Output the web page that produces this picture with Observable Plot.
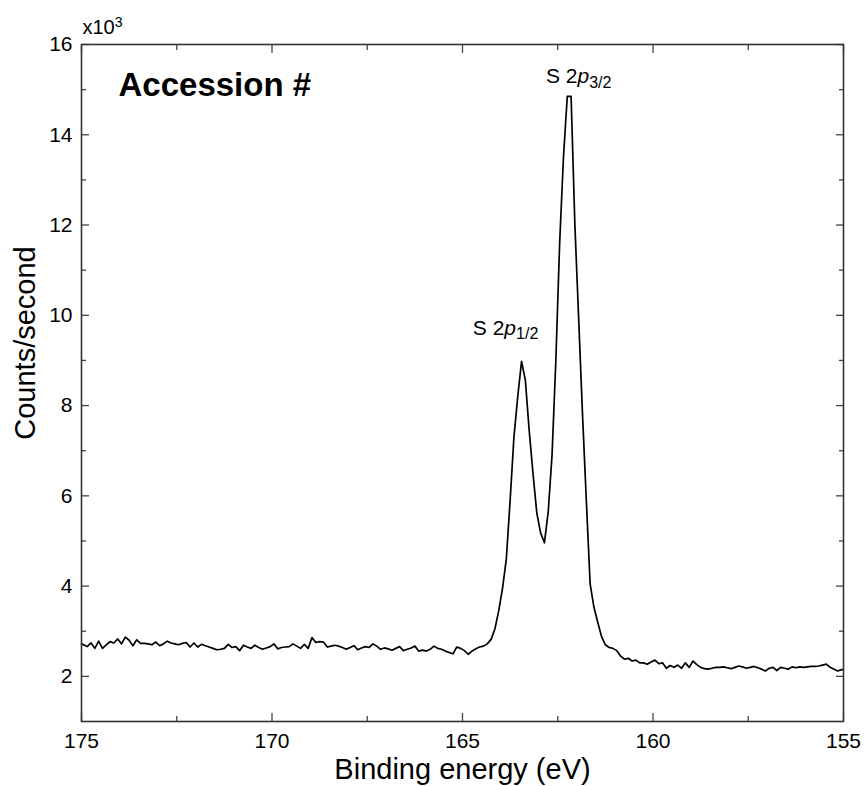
<!DOCTYPE html>
<html>
<head>
<meta charset="utf-8">
<script src="https://cdn.jsdelivr.net/npm/d3@7"></script>
<script src="https://cdn.jsdelivr.net/npm/@observablehq/plot@0.6"></script>
<style>
  html, body { margin: 0; padding: 0; background: #fff; }
  #chart svg { display: block; font-family: "Liberation Sans", Arial, sans-serif; }
</style>
</head>
<body>
<div id="chart"></div>
<script>
// Binding energy (eV), sampled spectrum
const energy = [
  175.0,
  174.95,174.85,174.75,174.65,174.55,174.45,174.35,174.25,174.15,174.05,
  173.95,173.85,173.75,173.65,173.55,173.45,173.35,173.25,173.15,173.05,
  172.95,172.85,172.75,172.65,172.55,172.45,172.35,172.25,172.15,172.05,
  171.95,171.85,171.75,171.65,171.55,171.45,171.35,171.25,171.15,171.05,
  170.95,170.85,170.75,170.65,170.55,170.45,170.35,170.25,170.15,170.05,
  169.95,169.85,169.75,169.65,169.55,169.45,169.35,169.25,169.15,169.05,
  168.95,168.85,168.75,168.65,168.55,168.45,168.35,168.25,168.15,168.05,
  167.95,167.85,167.75,167.65,167.55,167.45,167.35,167.25,167.15,167.05,
  166.95,166.85,166.75,166.65,166.55,166.45,166.35,166.25,166.15,166.05,
  165.95,165.85,165.75,165.65,165.55,165.45,165.35,165.25,165.15,165.05,
  164.95,164.85,164.75,164.65,164.55,164.45,164.35,164.25,164.15,164.05,
  163.95,163.85,163.75,163.65,163.55,163.45,163.35,163.25,163.15,163.05,
  162.95,162.85,162.75,162.65,162.55,162.45,162.35,162.25,162.15,162.05,
  161.95,161.85,161.75,161.65,161.55,161.45,161.35,161.25,161.15,161.05,
  160.95,160.85,160.75,160.65,160.55,160.45,160.35,160.25,160.15,160.05,
  159.95,159.85,159.75,159.65,159.55,159.45,159.35,159.25,159.15,159.05,
  158.95,158.85,158.75,158.65,158.55,158.45,158.35,158.25,158.15,158.05,
  157.95,157.85,157.75,157.65,157.55,157.45,157.35,157.25,157.15,157.05,
  156.95,156.85,156.75,156.65,156.55,156.45,156.35,156.25,156.15,156.05,
  155.95,155.85,155.75,155.65,155.55,155.45,155.35,155.25,155.15,155.05,
  155.0
];
// Counts/second (x10^3)
const counts = [
  2.72,
  2.70,2.66,2.74,2.62,2.78,2.62,2.70,2.77,2.74,2.83,
  2.72,2.87,2.80,2.68,2.81,2.73,2.73,2.72,2.70,2.76,
  2.68,2.72,2.78,2.74,2.72,2.70,2.73,2.75,2.65,2.74,
  2.65,2.71,2.68,2.65,2.62,2.59,2.60,2.62,2.71,2.64,
  2.66,2.57,2.69,2.65,2.62,2.69,2.64,2.60,2.63,2.66,
  2.72,2.61,2.64,2.65,2.66,2.72,2.67,2.62,2.71,2.62,
  2.86,2.75,2.77,2.76,2.65,2.67,2.69,2.67,2.64,2.60,
  2.64,2.68,2.59,2.63,2.66,2.64,2.72,2.67,2.60,2.63,
  2.61,2.58,2.62,2.66,2.57,2.60,2.63,2.67,2.56,2.58,
  2.56,2.60,2.67,2.62,2.60,2.56,2.53,2.50,2.65,2.62,
  2.57,2.49,2.56,2.61,2.65,2.67,2.72,2.82,3.05,3.45,
  3.95,4.60,5.90,7.30,8.20,8.98,8.56,7.45,6.50,5.62,
  5.18,4.96,5.65,6.90,9.00,11.6,13.5,14.85,14.85,12.0,
  9.90,7.80,5.90,4.05,3.53,3.20,2.88,2.70,2.64,2.62,
  2.57,2.45,2.38,2.40,2.34,2.36,2.30,2.30,2.27,2.32,
  2.36,2.28,2.30,2.18,2.24,2.20,2.25,2.18,2.30,2.20,
  2.34,2.26,2.20,2.17,2.16,2.18,2.20,2.20,2.21,2.19,
  2.17,2.20,2.23,2.21,2.18,2.20,2.22,2.19,2.16,2.12,
  2.18,2.20,2.13,2.20,2.18,2.16,2.21,2.19,2.21,2.20,
  2.21,2.22,2.22,2.23,2.25,2.27,2.20,2.16,2.12,2.15,
  2.15
];

const xMajorTicks = [175, 170, 165, 160, 155];
const xMinorTicks = [172.5, 167.5, 162.5, 157.5];
const yMajorTicks = [2, 4, 6, 8, 10, 12, 14, 16];
const yMinorTicks = [3, 5, 7, 9, 11, 13, 15];

const peakLabels = ["S 2p3/2", "S 2p1/2"];
const peakLabelX = [161.95, 163.87];
const peakLabelY = [15.29, 9.72];

const spectrum = energy.map((e, i) => ({energy: e, counts: counts[i]}));
const labels = peakLabels.map((t, i) => ({text: t, x: peakLabelX[i], y: peakLabelY[i]}));

const tickStroke = "#444";
const font = "Liberation Sans, Arial, sans-serif";

const plot = Plot.plot({
  width: 866,
  height: 786,
  marginLeft: 81,
  marginRight: 23,
  marginTop: 44,
  marginBottom: 65,
  style: {fontFamily: font, background: "white", color: "black"},
  x: {domain: [175, 155], label: null},
  y: {domain: [1, 16], label: null},
  marks: [
    // inward ticks, all four sides
    Plot.axisX(xMajorTicks, {anchor: "bottom", tickSize: -8, fill: "none", label: null, stroke: tickStroke, strokeWidth: 1.3}),
    Plot.axisX(xMinorTicks, {anchor: "bottom", tickSize: -5, fill: "none", label: null, stroke: tickStroke, strokeWidth: 1.3}),
    Plot.axisX(xMajorTicks, {anchor: "top", tickSize: -8, fill: "none", label: null, stroke: tickStroke, strokeWidth: 1.3}),
    Plot.axisX(xMinorTicks, {anchor: "top", tickSize: -5, fill: "none", label: null, stroke: tickStroke, strokeWidth: 1.3}),
    Plot.axisY(yMajorTicks, {anchor: "left", tickSize: -8, fill: "none", label: null, stroke: tickStroke, strokeWidth: 1.3}),
    Plot.axisY(yMinorTicks, {anchor: "left", tickSize: -5, fill: "none", label: null, stroke: tickStroke, strokeWidth: 1.3}),
    Plot.axisY(yMajorTicks, {anchor: "right", tickSize: -8, fill: "none", label: null, stroke: tickStroke, strokeWidth: 1.3}),
    Plot.axisY(yMinorTicks, {anchor: "right", tickSize: -5, fill: "none", label: null, stroke: tickStroke, strokeWidth: 1.3}),
    // tick labels
    Plot.axisX(xMajorTicks, {anchor: "bottom", tickSize: 0, tickPadding: 12, fontSize: 21, label: null, fill: "black"}),
    Plot.axisY(yMajorTicks, {anchor: "left", tickSize: 0, tickPadding: 9, fontSize: 21, label: null, fill: "black"}),
    // spectrum
    Plot.line(spectrum, {x: "energy", y: "counts", stroke: "black", strokeWidth: 1.7}),
    Plot.frame({stroke: "#333", strokeWidth: 1.6}),
    // peak annotations
    Plot.text(labels, {x: "x", y: "y", text: "text", fontSize: 21, fill: "black"}),
    // panel title
    Plot.text(["Accession #"], {frameAnchor: "top-left", dx: 37, dy: 41, textAnchor: "start", lineAnchor: "middle", fontSize: 33, fontWeight: "bold", fill: "black"}),
    // multiplier
    Plot.text(["x10^3"], {frameAnchor: "top-left", dx: 1, dy: -17, textAnchor: "start", lineAnchor: "middle", fontSize: 20, fill: "black"}),
    // axis titles
    Plot.text(["Binding energy (eV)"], {frameAnchor: "bottom", dy: 48, textAnchor: "middle", lineAnchor: "middle", fontSize: 29, fill: "black"}),
    Plot.text(["Counts/second"], {frameAnchor: "left", dx: -56, dy: -40, textAnchor: "middle", rotate: -90, lineAnchor: "middle", fontSize: 29, fill: "black"})
  ]
});

// rich text: italic p with subscripts, superscript exponent
d3.select(plot).selectAll("text").each(function () {
  const t = this.textContent;
  const m = /^S 2p(\d\/\d)$/.exec(t);
  if (m) {
    const el = d3.select(this);
    el.text("S 2");
    el.append("tspan").attr("font-style", "italic").text("p");
    el.append("tspan").attr("dy", "0.3em").attr("font-size", 16).text(m[1]);
  } else if (t === "x10^3") {
    const el = d3.select(this);
    el.text("x10");
    el.append("tspan").attr("dy", "-0.5em").attr("font-size", 14).text("3");
  }
});

document.getElementById("chart").appendChild(plot);
</script>
</body>
</html>
